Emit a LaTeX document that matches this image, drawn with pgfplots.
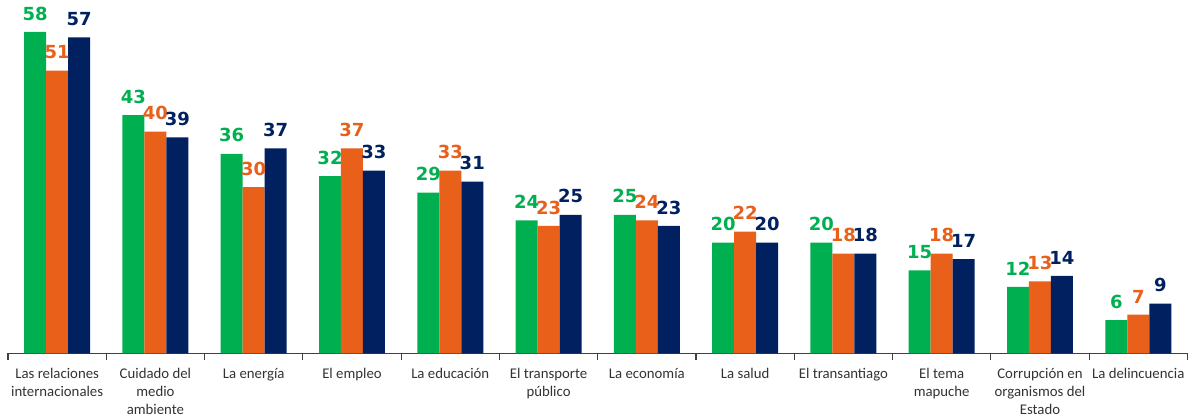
\documentclass[border=0pt]{standalone}
\usepackage{pgfplots}
\pgfplotsset{compat=1.18}
\usepackage{fontspec}
\setmainfont{Carlito}
\newfontfamily\valfont{DejaVu Sans}
\definecolor{cg}{HTML}{00B050}
\definecolor{co}{HTML}{E8601A}
\definecolor{cn}{HTML}{002060}
\begin{document}
\begin{tikzpicture}
\begin{axis}[
  scale only axis,
  width=590pt, height=177.5pt,
  ymin=0, ymax=64,
  xmin=-0.5, xmax=11.5,
  ybar=0pt, bar width=11pt,
  axis y line=none,
  axis x line*=bottom,
  x axis line style={black!75, line width=0.6pt, -},
  xtick={0,...,11},
  major x tick style={draw=none},
  minor xtick={-0.5,0.5,...,11.5},
  minor x tick style={black!75, line width=0.6pt},
  minor tick length=3.5pt,
  tick align=outside,
  xticklabels={{Las relaciones\\internacionales},{Cuidado del\\medio\\ambiente},{La energía},{El empleo},{La educación},{El transporte\\público},{La economía},{La salud},{El transantiago},{El tema\\mapuche},{Corrupción en\\organismos del\\Estado},{La delincuencia}},
  xticklabel style={align=center, font=\fontsize{7.4}{9}\selectfont, text=black!80, anchor=north, inner sep=0pt, yshift=-2.8pt},
  clip=false,
  nodes near coords,
  every node near coord/.append style={font=\valfont\bfseries\fontsize{9}{10}\selectfont, /pgf/number format/assume math mode=true, yshift=2.3pt},
]
\addplot[fill=cg, draw=none, nodes near coords style={text=cg}] coordinates {(0,58)(1,43)(2,36)(3,32)(4,29)(5,24)(6,25)(7,20)(8,20)(9,15)(10,12)(11,6)};
\addplot[fill=co, draw=none, nodes near coords style={text=co}] coordinates {(0,51)(1,40)(2,30)(3,37)(4,33)(5,23)(6,24)(7,22)(8,18)(9,18)(10,13)(11,7)};
\addplot[fill=cn, draw=none, nodes near coords style={text=cn}] coordinates {(0,57)(1,39)(2,37)(3,33)(4,31)(5,25)(6,23)(7,20)(8,18)(9,17)(10,14)(11,9)};
\end{axis}
\path (current axis.south west) ++(-4pt,0) coordinate (a);
\path (a) rectangle (a);
\path (current axis.south) ++(0,-32.5pt) coordinate (b);
\path (b) rectangle (b);
\end{tikzpicture}
\end{document}
